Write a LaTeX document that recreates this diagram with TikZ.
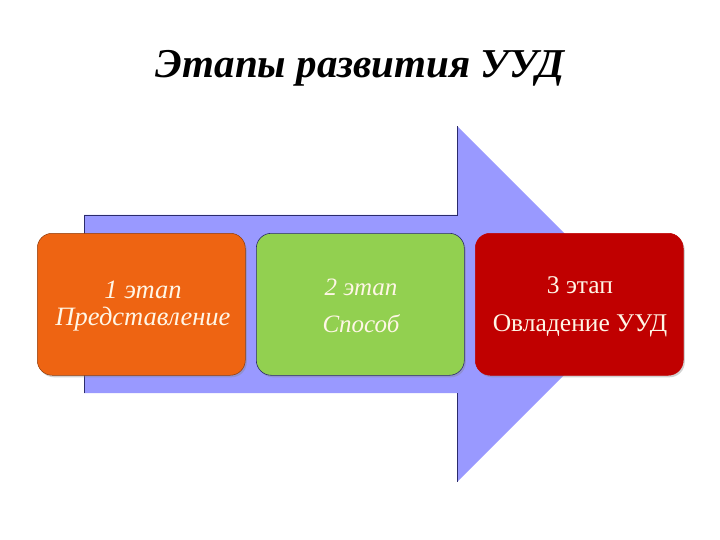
\documentclass[tikz,border=0pt]{standalone}
\usepackage{fontspec}
\setmainfont{Liberation Serif}
\usetikzlibrary{shadows}
\definecolor{arrowblue}{HTML}{9999FF}
\definecolor{arrowedge}{HTML}{2B2B6B}
\definecolor{orangebox}{HTML}{EE6412}
\definecolor{greenbox}{HTML}{92D050}
\definecolor{redbox}{HTML}{C00000}
\definecolor{cream}{HTML}{FFF6E6}
\tikzset{
  stagebox/.style={rounded corners=15pt, minimum width=208pt, minimum height=142pt, anchor=north west, drop shadow={shadow xshift=1.5pt, shadow yshift=-2pt, opacity=0.35}},
  stagetext/.style={text=cream, align=center}
}
\begin{document}
\begin{tikzpicture}[x=1pt,y=-1pt]
\useasboundingbox (0,0) rectangle (720,540);
\fill[white] (0,0) rectangle (720,540);
% arrow
\coordinate (shaftTL) at (84,215);
\coordinate (headT) at (457,126);
\coordinate (tip) at (635,304);
\coordinate (headB) at (457,482);
\coordinate (shaftBL) at (84,393);
\fill[arrowblue] (shaftTL) -- (457,215) -- (headT) -- (tip) -- (headB) -- (457,393) -- (shaftBL) -- cycle;
\draw[arrowedge, line width=0.6pt] (shaftBL) -- (shaftTL) -- (457,215) -- (headT);
\draw[arrowedge, line width=0.6pt] (457,393) -- (headB);
% boxes
\node[stagebox, fill=orangebox, draw=orangebox!60!black, line width=0.5pt] (b1) at (37,233) {};
\node[stagebox, fill=greenbox, draw=arrowedge, line width=0.6pt] (b2) at (256,233) {};
\node[stagebox, fill=redbox, draw=redbox, line width=0.5pt] (b3) at (475,233) {};
\node[stagetext, font=\fontsize{26.5}{27}\selectfont\itshape] (t1) at (143,306) {1 этап\\Представление};
\node[stagetext, font=\fontsize{25}{37}\selectfont\itshape] (t2) at (361,306) {2 этап\\Способ};
\node[stagetext, font=\fontsize{25.5}{38}\selectfont] (t3) at (580,307) {3 этап\\Овладение УУД};
% title
\node[font=\fontsize{41}{44}\selectfont\bfseries\itshape] (title) at (360,68) {Этапы развития УУД};
\end{tikzpicture}
\end{document}
